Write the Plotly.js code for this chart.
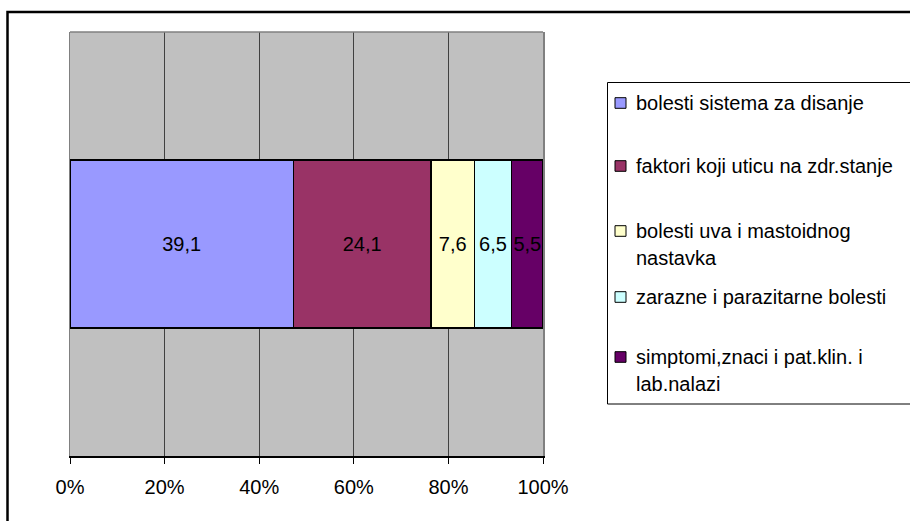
<!DOCTYPE html>
<html>
<head>
<meta charset="utf-8">
<script src="https://cdn.plot.ly/plotly-3.0.1.min.js"></script>
<style>html,body{margin:0;padding:0;background:#fff;}#chart{width:910px;height:521px;}</style>
</head>
<body>
<div id="chart"></div>
<script>
// ---- data ----
const categories = [
  'bolesti sistema za disanje',
  'faktori koji uticu na zdr.stanje',
  'bolesti uva i mastoidnog<br>nastavka',
  'zarazne i parazitarne bolesti',
  'simptomi,znaci i pat.klin. i<br>lab.nalazi'
];
const values = [39.1, 24.1, 7.6, 6.5, 5.5];
const tickValues = [0, 20, 40, 60, 80, 100];
const tickLabels = ['0%', '20%', '40%', '60%', '80%', '100%'];

// ---- styles ----
const colors = ['#9999FF', '#993366', '#FFFFCC', '#CCFFFF', '#660066'];
const FONT = 'Liberation Sans, Arial, sans-serif';
const FS = 20;

const W = 910, H = 521;
const L = 70, R = 543, T = 32, B = 456;
const px = x => (x - L) / (R - L);
const py = y => (B - y) / (B - T);

const traces = categories.map((name, i) => ({
  type: 'bar',
  orientation: 'h',
  name: name,
  y: ['s'],
  x: [values[i]],
  text: [values[i].toFixed(1).replace('.', ',')],
  textposition: 'inside',
  insidetextanchor: 'middle',
  textangle: 0,
  constraintext: 'none',
  insidetextfont: {family: FONT, size: FS, color: '#000'},
  marker: {color: colors[i], line: {color: '#000', width: 1.5}},
  hoverinfo: 'none',
  showlegend: false
}));

// legend drawn as shapes + annotations
const rowY = [103, 166, 231, 297, 357];
const lineStep = 27;
const shapes = [
  // outer frame
  {type: 'rect', xref: 'paper', yref: 'paper', x0: px(7.5), x1: px(930), y0: py(540), y1: py(12),
   line: {color: '#000', width: 2.5}, fillcolor: 'rgba(0,0,0,0)', layer: 'below'},
  // top plot border
  {type: 'line', xref: 'paper', yref: 'paper', x0: 0, x1: 1, y0: 1, y1: 1,
   line: {color: '#808080', width: 1.5}},
  // legend box
  {type: 'rect', xref: 'paper', yref: 'paper', x0: px(607.5), x1: px(930), y0: py(404), y1: py(82.5),
   line: {color: '#000', width: 1}, fillcolor: '#fff'}
];
const annotations = [];
categories.forEach((name, i) => {
  const c = rowY[i];
  shapes.push({type: 'rect', xref: 'paper', yref: 'paper',
    x0: px(615), x1: px(626), y0: py(c + 5.3), y1: py(c - 5.3),
    fillcolor: colors[i], line: {color: '#000', width: 1}});
  name.split('<br>').forEach((line, k) => {
    annotations.push({xref: 'paper', yref: 'paper', x: px(634), y: py(c + k * lineStep),
      xanchor: 'left', yanchor: 'middle', showarrow: false, text: line,
      font: {family: FONT, size: FS, color: '#000'}});
  });
});

const layout = {
  width: W, height: H,
  margin: {l: L, r: W - R, t: T, b: H - B, pad: 0},
  paper_bgcolor: '#fff',
  plot_bgcolor: '#C0C0C0',
  barmode: 'stack',
  barnorm: 'percent',
  bargap: 0.604,
  showlegend: false,
  font: {family: FONT, size: FS, color: '#000'},
  xaxis: {
    range: [0, 100], tickvals: tickValues, ticktext: tickLabels,
    showgrid: true, gridcolor: '#404040', gridwidth: 1,
    ticks: 'outside', ticklen: 6, tickcolor: '#000', tickwidth: 1,
    ticklabelstandoff: 6,
    showline: true, linecolor: '#000', linewidth: 1.5,
    zeroline: false, fixedrange: true,
    tickfont: {family: FONT, size: FS, color: '#000'}
  },
  yaxis: {
    type: 'category', range: [-0.5, 0.5], showticklabels: false,
    showgrid: false, zeroline: false, ticks: '',
    showline: true, mirror: true, linecolor: '#808080', linewidth: 1.5, fixedrange: true
  },
  shapes: shapes,
  annotations: annotations
};

Plotly.newPlot('chart', traces, layout, {displayModeBar: false, staticPlot: true});
</script>
</body>
</html>
